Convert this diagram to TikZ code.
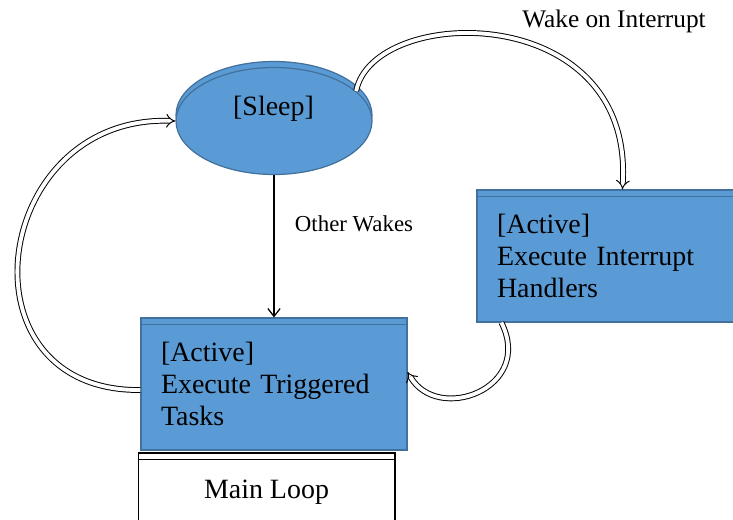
\documentclass[tikz,border=0pt]{standalone}
\usepackage{fontspec}
\setmainfont{Liberation Serif}
\usetikzlibrary{arrows.meta,shapes.geometric}
\definecolor{stateblue}{HTML}{5B9BD5}
\definecolor{edgeblue}{HTML}{41719C}
\tikzset{
    state/.style={fill=stateblue, draw=edgeblue, line width=0.7pt, inner sep=0pt},
    sleepshape/.style={state, ellipse, minimum width=3.92cm, minimum height=2.14cm},
    activebox/.style={state, rectangle, align=left, inner xsep=0.4cm,
                      font=\fontsize{15.9pt}{18.1pt}\selectfont},
    loopbox/.style={draw, line width=0.6pt, fill=white, rectangle,
                    font=\fontsize{15.9pt}{18.1pt}\selectfont},
    rim/.style={draw=edgeblue, line width=0.7pt},
    flow/.style={-{Straight Barb[length=4.5pt,width=7pt]}, line width=0.7pt},
    wake/.style={-{Implies}, line width=0.55pt, double, double distance=2.2pt},
    note/.style={font=\fontsize{13pt}{15pt}\selectfont},
}
\begin{document}
\begin{tikzpicture}[x=0.02cm, y=-0.02cm]
    \clip (0,0) rectangle (733,520);

    \node[sleepshape] (sleepback) at (274,115) {};
    \node[sleepshape] (sleep) at (274,121) {};
    \node[font=\fontsize{15.9pt}{18.1pt}\selectfont] (sleeptext) at (273.5,108.5) {[Sleep]};

    \node[activebox, minimum width=5.26cm, minimum height=2.64cm, text width=4.46cm]
        (handlers) at (608.5,256) {[Active]\\Execute Interrupt\\Handlers};
    \draw[rim] ([yshift=-0.14cm]handlers.north west) -- ([yshift=-0.14cm]handlers.north east);

    \node[activebox, minimum width=5.32cm, minimum height=2.64cm, text width=4.52cm]
        (tasks) at (274,384) {[Active]\\Execute Triggered\\Tasks};
    \draw[rim] ([yshift=-0.14cm]tasks.north west) -- ([yshift=-0.14cm]tasks.north east);

    \node[loopbox, minimum width=5.14cm, minimum height=1.56cm] (mainloop) at (266.5,492) {Main Loop};
    \draw[line width=0.6pt] ([yshift=-0.14cm]mainloop.north west) -- ([yshift=-0.14cm]mainloop.north east);

    \node[note, font=\fontsize{14.4pt}{16pt}\selectfont] (wakelabel) at (614,21) {Wake on Interrupt};
    \node[note] (otherlabel) at (354,224) {Other Wakes};

    \draw[flow] (sleep) -- (tasks);
    \draw[wake] (sleep.20) .. controls +(17,-87) and +(12,-190) .. ([xshift=2.92cm]handlers.north west);
    \draw[wake] ([xshift=0.5cm]handlers.south west) .. controls +(33,66) and +(30,52) .. ([yshift=0.24cm]tasks.east);
    \draw[wake] ([yshift=-0.12cm]tasks.west) .. controls +(-185,2) and +(-185,-6) .. (sleep.west);
\end{tikzpicture}
\end{document}
